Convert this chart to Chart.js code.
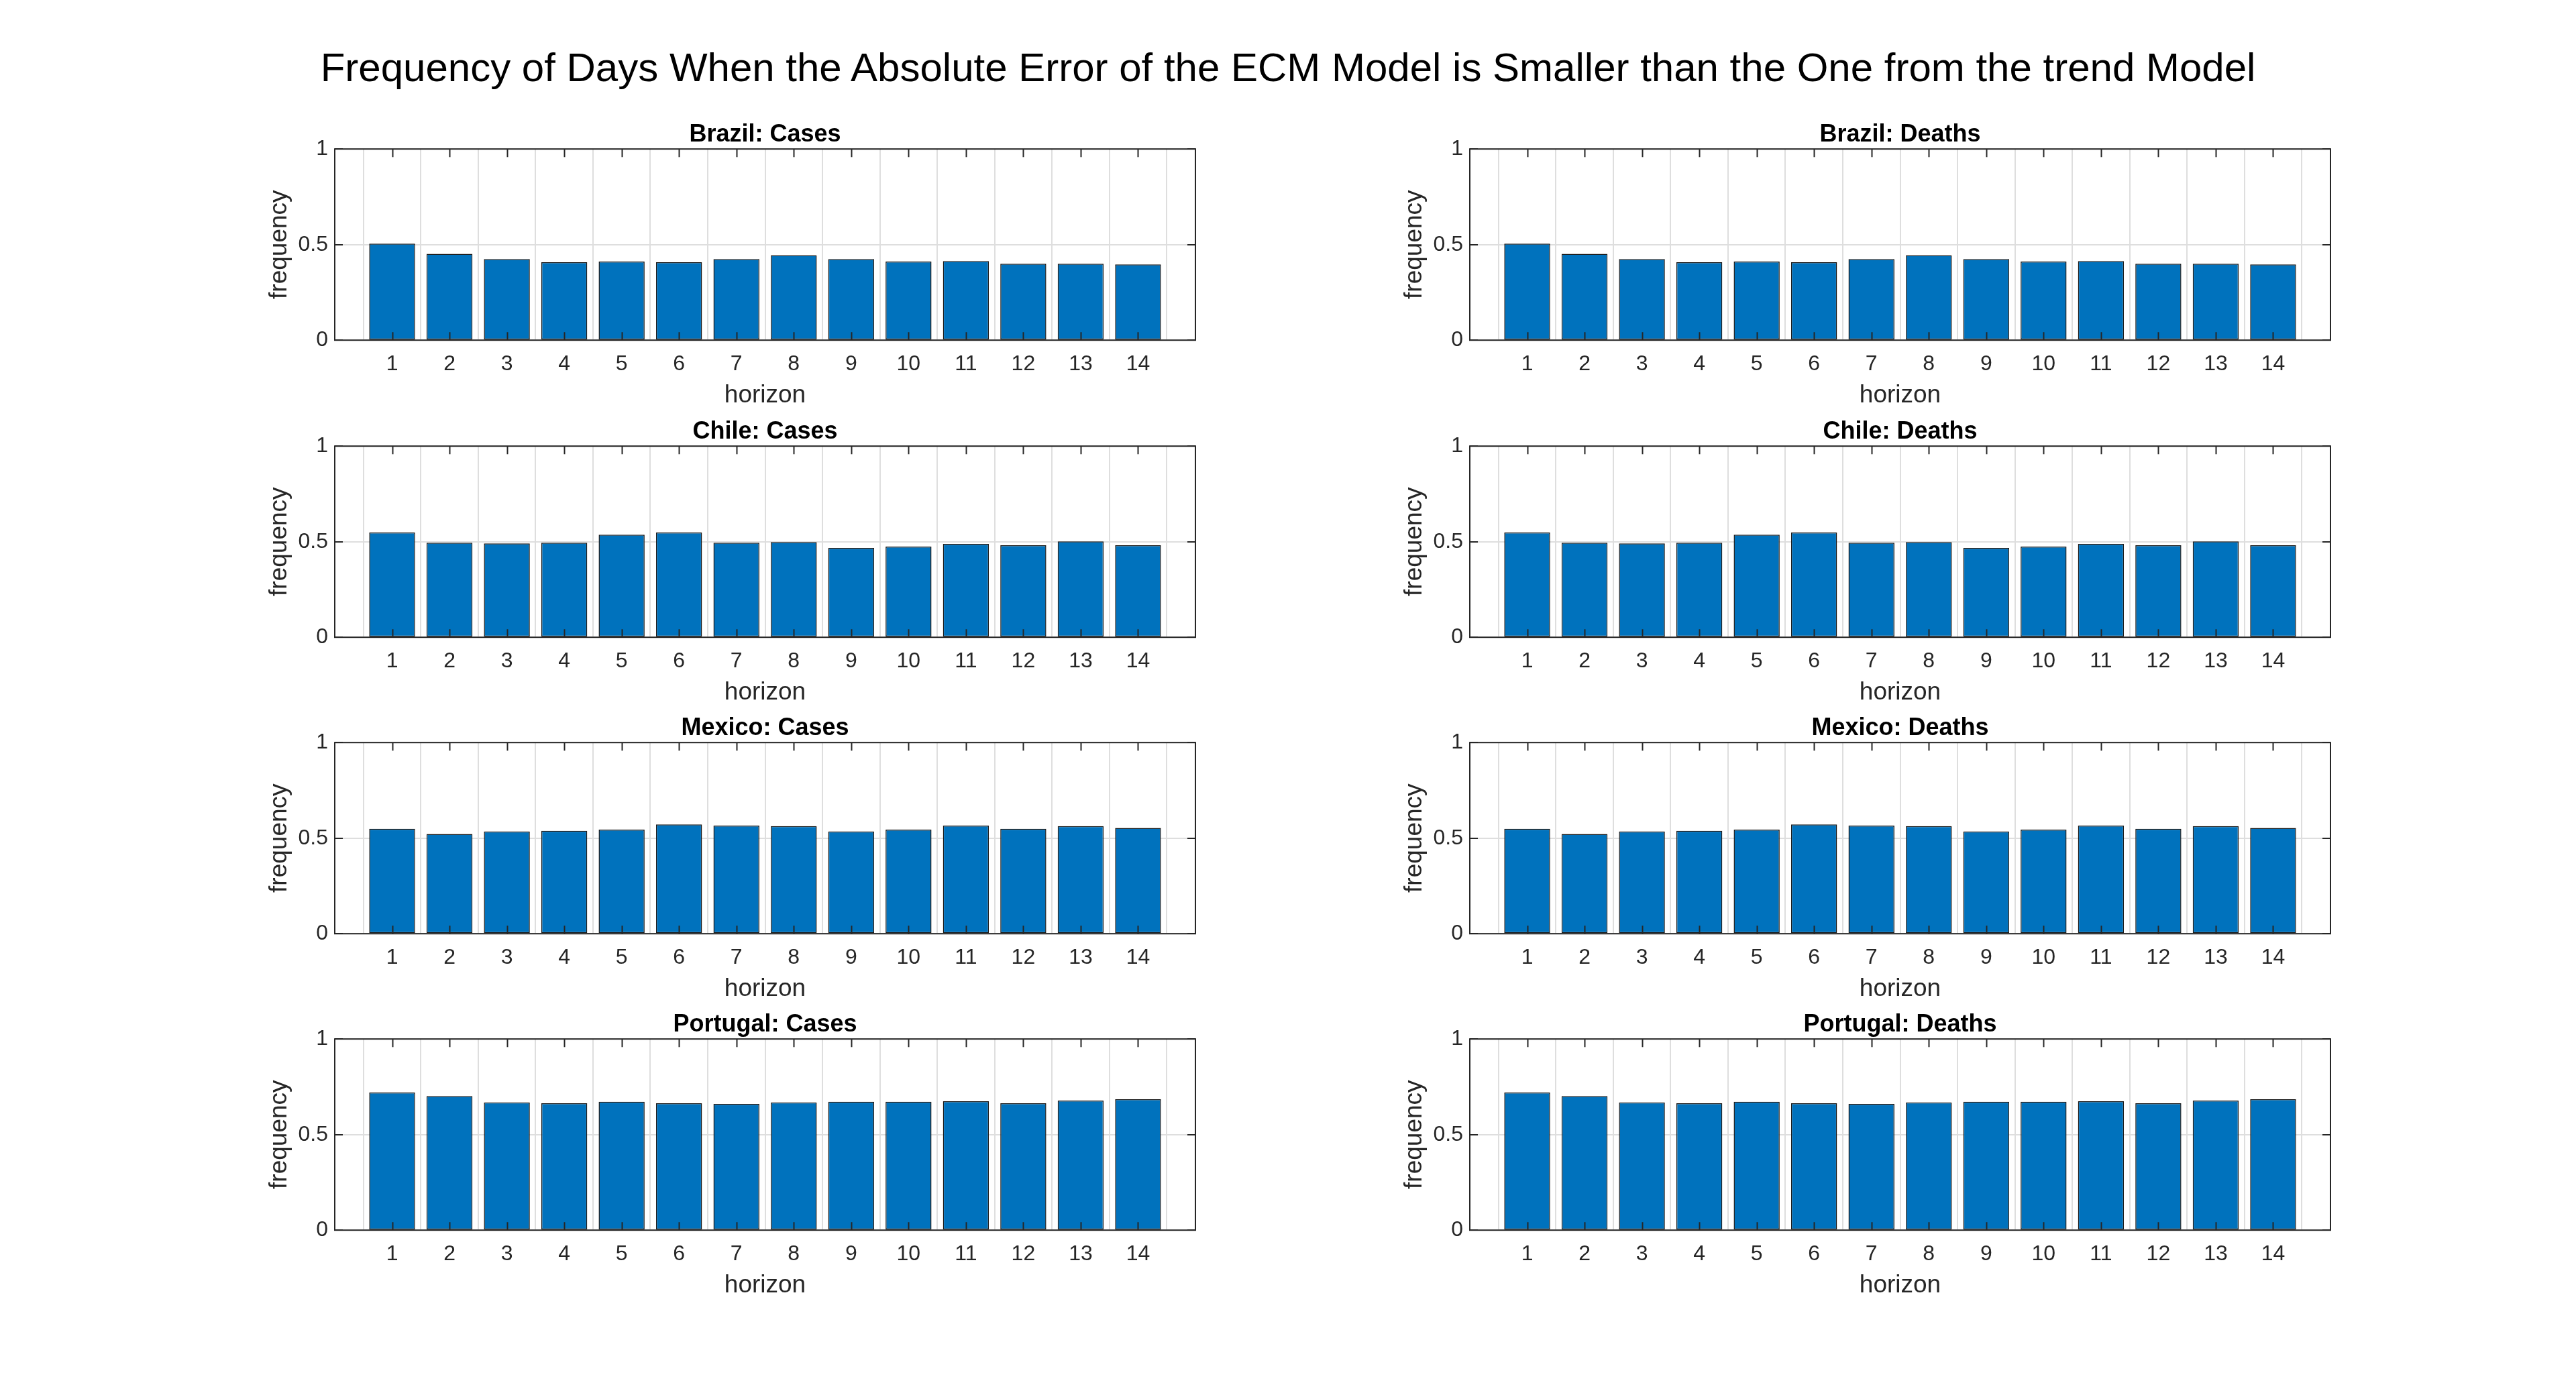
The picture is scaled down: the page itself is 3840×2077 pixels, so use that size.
<!DOCTYPE html>
<html>
<head>
<meta charset="utf-8">
<script src="https://cdn.jsdelivr.net/npm/chart.js@4.4.1/dist/chart.umd.min.js"></script>
<style>
  html, body { margin: 0; padding: 0; background: #fff; }
  body { width: 3840px; height: 2077px; position: relative; overflow: hidden; font-family: "Liberation Sans", Arial, sans-serif; }
  #suptitle { position: absolute; top: 71px; left: 0; width: 3840px; text-align: center; font-size: 60px; line-height: 60px; color: #000; white-space: nowrap; }
  .panel { position: absolute; }
</style>
</head>
<body>
<div id="suptitle">Frequency of Days When the Absolute Error of the ECM Model is Smaller than the One from the trend Model</div>
<script>
const horizons = [1, 2, 3, 4, 5, 6, 7, 8, 9, 10, 11, 12, 13, 14]
const yTicks = [0, 0.5, 1]

const brazilCases    = [0.505, 0.452, 0.424, 0.408, 0.411, 0.408, 0.424, 0.445, 0.424, 0.411, 0.414, 0.400, 0.400, 0.396]
const brazilDeaths   = [0.505, 0.452, 0.424, 0.408, 0.411, 0.408, 0.424, 0.445, 0.424, 0.411, 0.414, 0.400, 0.400, 0.396]
const chileCases     = [0.548, 0.495, 0.491, 0.495, 0.537, 0.548, 0.495, 0.498, 0.467, 0.474, 0.488, 0.481, 0.502, 0.481]
const chileDeaths    = [0.548, 0.495, 0.491, 0.495, 0.537, 0.548, 0.495, 0.498, 0.467, 0.474, 0.488, 0.481, 0.502, 0.481]
const mexicoCases    = [0.549, 0.522, 0.535, 0.538, 0.545, 0.572, 0.566, 0.563, 0.535, 0.545, 0.566, 0.549, 0.563, 0.553]
const mexicoDeaths   = [0.549, 0.522, 0.535, 0.538, 0.545, 0.572, 0.566, 0.563, 0.535, 0.545, 0.566, 0.549, 0.563, 0.553]
const portugalCases  = [0.720, 0.702, 0.668, 0.664, 0.672, 0.664, 0.660, 0.668, 0.672, 0.672, 0.674, 0.664, 0.678, 0.685]
const portugalDeaths = [0.720, 0.702, 0.668, 0.664, 0.672, 0.664, 0.660, 0.668, 0.672, 0.672, 0.674, 0.664, 0.678, 0.685]

const panels = [
  { title: "Brazil: Cases",    values: brazilCases,    col: 0, row: 0 },
  { title: "Brazil: Deaths",   values: brazilDeaths,   col: 1, row: 0 },
  { title: "Chile: Cases",     values: chileCases,     col: 0, row: 1 },
  { title: "Chile: Deaths",    values: chileDeaths,    col: 1, row: 1 },
  { title: "Mexico: Cases",    values: mexicoCases,    col: 0, row: 2 },
  { title: "Mexico: Deaths",   values: mexicoDeaths,   col: 1, row: 2 },
  { title: "Portugal: Cases",  values: portugalCases,  col: 0, row: 3 },
  { title: "Portugal: Deaths", values: portugalDeaths, col: 1, row: 3 }
]

// plot-area geometry (px)
const colLeft = [499, 2191]
const rowTop  = [222, 665, 1107, 1549]
const plotW = 1283
const plotH = 285
const yAxisW = 104
const xAxisH = 105
const titleH = 43.2
const padR = 10

const axisColor = "#262626"
const FONT = "'Liberation Sans', Arial, sans-serif"

// MATLAB-style box with inward ticks, drawn on top of the bars
const boxPlugin = {
  id: "box",
  afterDatasetsDraw(chart) {
    const { ctx, chartArea: a, scales } = chart
    const tl = 12
    ctx.save()
    ctx.strokeStyle = axisColor
    ctx.lineWidth = 2
    ctx.beginPath()
    horizons.forEach(h => {
      const x = Math.round(scales.x.getPixelForValue(h)) + 0.5
      ctx.moveTo(x, a.bottom); ctx.lineTo(x, a.bottom - tl)
      ctx.moveTo(x, a.top);    ctx.lineTo(x, a.top + tl)
    })
    yTicks.forEach(v => {
      const y = Math.round(scales.y.getPixelForValue(v))
      ctx.moveTo(a.left, y);  ctx.lineTo(a.left + tl, y)
      ctx.moveTo(a.right, y); ctx.lineTo(a.right - tl, y)
    })
    ctx.stroke()
    ctx.strokeRect(a.left, a.top, a.right - a.left, a.bottom - a.top)
    ctx.restore()
  }
}

panels.forEach(p => {
  const div = document.createElement("div")
  div.className = "panel"
  const w = yAxisW + plotW + padR
  const h = titleH + plotH + xAxisH
  div.style.left = (colLeft[p.col] - yAxisW) + "px"
  div.style.top = (rowTop[p.row] - titleH) + "px"
  div.style.width = w + "px"
  div.style.height = h + "px"
  const canvas = document.createElement("canvas")
  div.appendChild(canvas)
  document.body.appendChild(div)

  new Chart(canvas.getContext("2d"), {
    type: "bar",
    data: {
      datasets: [{
        data: horizons.map((hz, i) => ({ x: hz, y: p.values[i] })),
        backgroundColor: "#0072BD",
        borderColor: "#1a1a1a",
        borderWidth: 1.5,
        borderSkipped: false,
        barPercentage: 0.8,
        categoryPercentage: 1
      }]
    },
    options: {
      responsive: true,
      maintainAspectRatio: false,
      animation: false,
      layout: { padding: { top: 0, right: padR, bottom: 0, left: 0 } },
      plugins: {
        legend: { display: false },
        tooltip: { enabled: false },
        title: {
          display: true,
          fullSize: false,
          text: p.title,
          color: "#000",
          font: { family: FONT, size: 36, weight: "bold", lineHeight: 1.2 },
          padding: { top: 0, bottom: 0 }
        }
      },
      scales: {
        x: {
          type: "linear",
          min: 0,
          max: 15,
          offset: false,
          afterBuildTicks: s => { s.ticks = horizons.map(v => ({ value: v })) },
          afterFit: s => { s.height = xAxisH },
          ticks: {
            color: axisColor,
            padding: 17,
            maxRotation: 0,
            autoSkip: false,
            font: { family: FONT, size: 32 },
            callback: v => String(v)
          },
          grid: { color: "#dedede", lineWidth: 2, drawTicks: false },
          border: { display: false },
          title: {
            display: true,
            text: "horizon",
            color: axisColor,
            padding: 0,
            font: { family: FONT, size: 37, lineHeight: 1.2 }
          }
        },
        y: {
          min: 0,
          max: 1,
          afterBuildTicks: s => { s.ticks = yTicks.map(v => ({ value: v })) },
          afterFit: s => { s.width = yAxisW },
          ticks: {
            color: axisColor,
            padding: 10,
            font: { family: FONT, size: 32 },
            callback: v => String(v)
          },
          grid: { color: "#dedede", lineWidth: 2, drawTicks: false },
          border: { display: false },
          title: {
            display: true,
            text: "frequency",
            color: axisColor,
            padding: 0,
            font: { family: FONT, size: 37, lineHeight: 1.2 }
          }
        }
      }
    },
    plugins: [boxPlugin]
  })
})
</script>
</body>
</html>
